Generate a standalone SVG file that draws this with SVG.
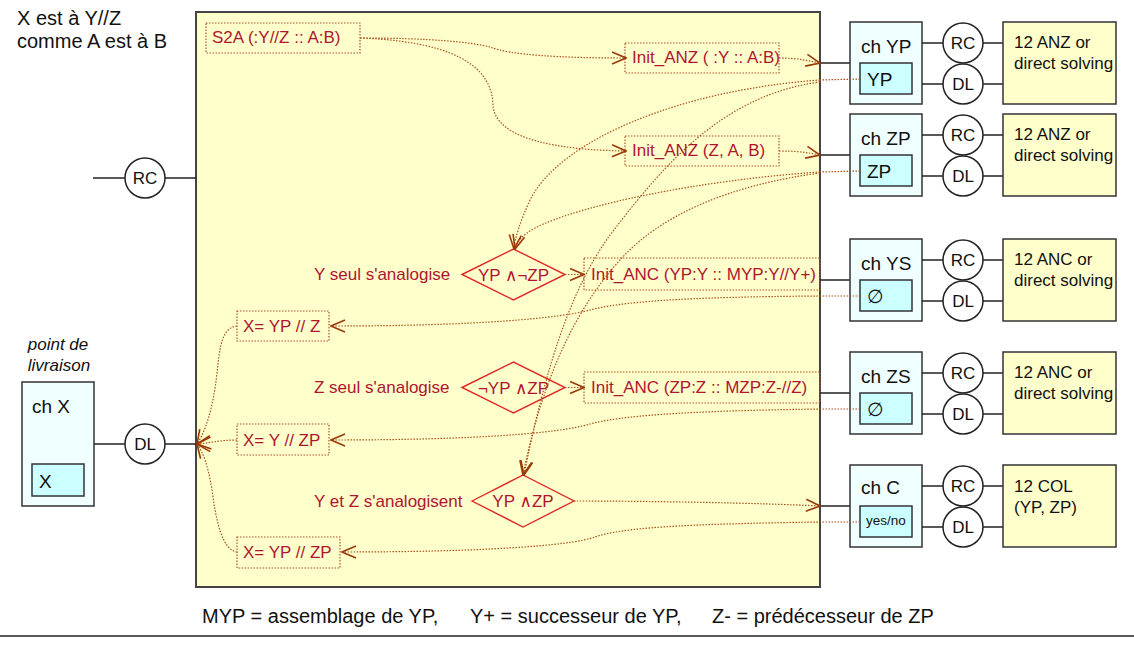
<svg xmlns="http://www.w3.org/2000/svg" width="1134" height="647" viewBox="0 0 1134 647">
<style>
.t{font-family:"Liberation Sans",Arial,sans-serif;font-size:19px;fill:#111}
.s{font-family:"Liberation Sans",Arial,sans-serif;font-size:17px;fill:#111}
.c{font-family:"Liberation Sans",Arial,sans-serif;font-size:17px;fill:#111;text-anchor:middle}
.r{font-family:"Liberation Sans","DejaVu Sans",Arial,sans-serif;font-size:17px;fill:#b01530}
.rm{font-family:"Liberation Sans","DejaVu Sans",Arial,sans-serif;font-size:17px;fill:#b01530;text-anchor:middle}
.dbox{fill:none;stroke:#b0502a;stroke-width:1.2;stroke-dasharray:1.5 1.5}
.conn{fill:none;stroke:#a8501e;stroke-width:1.2;stroke-dasharray:1.5 1.5}
.arr{marker-end:url(#ah)}
.ln{stroke:#222;stroke-width:1.5;fill:none}
.circ{fill:#fff;stroke:#222;stroke-width:1.5}
.ch{fill:#f0ffff;stroke:#333;stroke-width:1.5}
.in{fill:#ccffff;stroke:#333;stroke-width:1.5}
.yb{fill:#ffffcc;stroke:#333;stroke-width:1.5}
.dia{fill:none;stroke:#e02828;stroke-width:1.4}
</style>
<defs>
<marker id="ah" viewBox="0 0 16 14" refX="15" refY="7" markerWidth="16" markerHeight="14" markerUnits="userSpaceOnUse" orient="auto">
<path d="M1,1 L15,7 L1,13" fill="none" stroke="#9a3a0a" stroke-width="1.6"/>
</marker>
</defs>
<rect width="1134" height="647" fill="#fff"/>

<g id="title">
<text class="t" x="17" y="25" style="font-size:20px">X est à Y//Z</text>
<text class="t" x="17" y="48" style="font-size:20px">comme A est à B</text>
</g>

<g id="main">
<rect x="196" y="12" width="624" height="575" fill="#ffffcc" stroke="#444" stroke-width="2"/>
</g>

<g id="rc-left">
<line class="ln" x1="93" y1="178" x2="125" y2="178"/>
<line class="ln" x1="165" y1="178" x2="196" y2="178"/>
<circle class="circ" cx="145" cy="178" r="20"/>
<text class="c" x="145" y="184">RC</text>
</g>

<g id="chX">
<text class="s" x="58" y="350" style="font-style:italic;text-anchor:middle">point de</text>
<text class="s" x="59" y="371" style="font-style:italic;text-anchor:middle">livraison</text>
<rect class="ch" x="22" y="382" width="72" height="124"/>
<text class="t" x="32" y="413">ch X</text>
<rect class="in" x="32" y="464" width="52" height="32"/>
<text class="t" x="39" y="488">X</text>
<line class="ln" x1="94" y1="444" x2="125" y2="444"/>
<line class="ln" x1="165" y1="444" x2="196" y2="444"/>
<circle class="circ" cx="145" cy="444" r="20"/>
<text class="c" x="145" y="450">DL</text>
</g>

<g id="s2a">
<rect class="dbox" x="206" y="23" width="154" height="30"/>
<text class="r" x="212" y="43">S2A (:Y//Z :: A:B)</text>
</g>
<g id="initANZ1">
<rect class="dbox" x="625" y="43" width="154" height="30"/>
<text class="r" x="632" y="63">Init_ANZ ( :Y :: A:B)</text>
</g>
<g id="initANZ2">
<rect class="dbox" x="625" y="136" width="154" height="30"/>
<text class="r" x="632" y="156">Init_ANZ (Z, A, B)</text>
</g>
<g id="initANC1">
<rect class="dbox" x="584" y="258" width="236" height="32"/>
<text class="r" x="591" y="280">Init_ANC (YP:Y :: MYP:Y//Y+)</text>
</g>
<g id="initANC2">
<rect class="dbox" x="584" y="372" width="236" height="31"/>
<text class="r" x="591" y="393">Init_ANC (ZP:Z :: MZP:Z-//Z)</text>
</g>

<g id="d1">
<text class="r" x="314" y="280">Y seul s'analogise</text>
<polygon class="dia" points="462,274.5 513.5,249 565,274.5 513.5,300"/>
<text class="rm" x="513.5" y="281">YP ∧¬ZP</text>
</g>
<g id="d2">
<text class="r" x="314" y="393">Z seul s'analogise</text>
<polygon class="dia" points="462,387.5 513.5,362 565,387.5 513.5,413"/>
<text class="rm" x="513.5" y="394">¬YP ∧ZP</text>
</g>
<g id="d3">
<text class="r" x="314" y="507">Y et Z s'analogisent</text>
<polygon class="dia" points="472,501 523,475 574,501 523,527"/>
<text class="rm" x="523" y="507">YP ∧ZP</text>
</g>

<g id="x1">
<rect class="dbox" x="237" y="311" width="92" height="30"/>
<text class="r" x="243" y="332">X= YP // Z</text>
</g>
<g id="x2">
<rect class="dbox" x="237" y="424" width="92" height="31"/>
<text class="r" x="243" y="446">X= Y // ZP</text>
</g>
<g id="x3">
<rect class="dbox" x="237" y="537" width="103" height="31"/>
<text class="r" x="243" y="558">X= YP // ZP</text>
</g>

<g id="rowYP">
<line class="ln" x1="820" y1="63" x2="850" y2="63"/>
<rect class="ch" x="850" y="22" width="72" height="82"/>
<text class="t" x="861" y="53">ch YP</text>
<rect class="in" x="860" y="63" width="52" height="31"/>
<text class="t" x="867" y="86">YP</text>
<line class="ln" x1="922" y1="43" x2="1003" y2="43"/>
<line class="ln" x1="922" y1="84" x2="1003" y2="84"/>
<circle class="circ" cx="963" cy="43" r="20"/>
<text class="c" x="963" y="49">RC</text>
<circle class="circ" cx="963" cy="84" r="20"/>
<text class="c" x="963" y="90">DL</text>
<rect class="yb" x="1003" y="22" width="113" height="82"/>
<text class="s" x="1014" y="48">12 ANZ or</text>
<text class="s" x="1014" y="69">direct solving</text>
</g>
<g id="rowZP">
<line class="ln" x1="820" y1="155" x2="850" y2="155"/>
<rect class="ch" x="850" y="114" width="72" height="82"/>
<text class="t" x="861" y="145">ch ZP</text>
<rect class="in" x="860" y="155" width="52" height="31"/>
<text class="t" x="867" y="178">ZP</text>
<line class="ln" x1="922" y1="135" x2="1003" y2="135"/>
<line class="ln" x1="922" y1="176" x2="1003" y2="176"/>
<circle class="circ" cx="963" cy="135" r="20"/>
<text class="c" x="963" y="141">RC</text>
<circle class="circ" cx="963" cy="176" r="20"/>
<text class="c" x="963" y="182">DL</text>
<rect class="yb" x="1003" y="114" width="113" height="82"/>
<text class="s" x="1014" y="140">12 ANZ or</text>
<text class="s" x="1014" y="161">direct solving</text>
</g>
<g id="rowYS">
<line class="ln" x1="820" y1="280" x2="850" y2="280"/>
<rect class="ch" x="850" y="239" width="72" height="82"/>
<text class="t" x="861" y="270">ch YS</text>
<rect class="in" x="860" y="280" width="52" height="31"/>
<text class="t" x="867" y="303">∅</text>
<line class="ln" x1="922" y1="260" x2="1003" y2="260"/>
<line class="ln" x1="922" y1="301" x2="1003" y2="301"/>
<circle class="circ" cx="963" cy="260" r="20"/>
<text class="c" x="963" y="266">RC</text>
<circle class="circ" cx="963" cy="301" r="20"/>
<text class="c" x="963" y="307">DL</text>
<rect class="yb" x="1003" y="239" width="113" height="82"/>
<text class="s" x="1014" y="265">12 ANC or</text>
<text class="s" x="1014" y="286">direct solving</text>
</g>
<g id="rowZS">
<line class="ln" x1="820" y1="393" x2="850" y2="393"/>
<rect class="ch" x="850" y="352" width="72" height="82"/>
<text class="t" x="861" y="383">ch ZS</text>
<rect class="in" x="860" y="393" width="52" height="31"/>
<text class="t" x="867" y="416">∅</text>
<line class="ln" x1="922" y1="373" x2="1003" y2="373"/>
<line class="ln" x1="922" y1="414" x2="1003" y2="414"/>
<circle class="circ" cx="963" cy="373" r="20"/>
<text class="c" x="963" y="379">RC</text>
<circle class="circ" cx="963" cy="414" r="20"/>
<text class="c" x="963" y="420">DL</text>
<rect class="yb" x="1003" y="352" width="113" height="82"/>
<text class="s" x="1014" y="378">12 ANC or</text>
<text class="s" x="1014" y="399">direct solving</text>
</g>
<g id="rowC">
<line class="ln" x1="820" y1="506" x2="850" y2="506"/>
<rect class="ch" x="850" y="465" width="72" height="82"/>
<text class="t" x="861" y="494">ch C</text>
<rect class="in" x="860" y="506" width="52" height="31"/>
<text class="s" x="866" y="525" style="font-size:13.5px">yes/no</text>
<line class="ln" x1="922" y1="486" x2="1003" y2="486"/>
<line class="ln" x1="922" y1="527" x2="1003" y2="527"/>
<circle class="circ" cx="963" cy="486" r="20"/>
<text class="c" x="963" y="492">RC</text>
<circle class="circ" cx="963" cy="527" r="20"/>
<text class="c" x="963" y="533">DL</text>
<rect class="yb" x="1003" y="465" width="113" height="82"/>
<text class="s" x="1014" y="492">12 COL</text>
<text class="s" x="1014" y="513">(YP, ZP)</text>
</g>

<g id="connectors">
<path class="conn arr" d="M360,38 C430,38 470,42 490,47 C510,55 560,58 626,58"/>
<path class="conn arr" d="M360,38 C470,42 492,75 493,105 C495,140 560,150 626,151"/>
<path class="conn arr" d="M779,58 C795,58 805,60 820,63"/>
<path class="conn arr" d="M779,151 C795,151 805,152 820,155"/>
<path class="conn" d="M860,79 L820,80"/>
<path class="conn arr" d="M820,80 C680,90 560,140 530,200 C520,222 515,238 514,249"/>
<path class="conn arr" d="M820,82 C720,95 660,170 610,235 C570,290 545,370 524,475"/>
<path class="conn" d="M860,171 L820,172"/>
<path class="conn arr" d="M820,172 C700,180 580,205 535,228 C522,235 517,242 515,249"/>
<path class="conn arr" d="M820,173 C730,185 660,215 620,260 C570,315 540,390 523,475"/>
<path class="conn arr" d="M860,296 L820,296 C680,297 620,302 590,310 C560,318 480,326 331,326"/>
<path class="conn arr" d="M860,409 L820,409 C680,411 620,416 590,424 C560,433 480,440 331,440"/>
<path class="conn arr" d="M860,522 L820,522 C680,524 620,528 595,537 C570,546 480,552 342,552"/>
<path class="conn arr" d="M565,274.5 L584,274.5"/>
<path class="conn arr" d="M565,387.5 L584,387.5"/>
<path class="conn arr" d="M574,501 C650,501 760,503 820,506"/>
<path class="conn arr" d="M237,326 C222,328 220,345 217,373 C213,410 205,432 197,444"/>
<path class="conn arr" d="M237,440 C220,440 210,443 197,444"/>
<path class="conn arr" d="M237,552 C222,550 216,520 212,490 C208,465 203,452 197,444"/>
</g>

<g id="legend">
<text class="t" x="202" y="623" style="font-size:20px">MYP = assemblage de YP,</text>
<text class="t" x="470" y="623" style="font-size:20px">Y+ = successeur de YP,</text>
<text class="t" x="712" y="623" style="font-size:20px">Z- = prédécesseur de ZP</text>
<line x1="0" y1="636" x2="1134" y2="636" stroke="#222" stroke-width="1.5"/>
</g>
</svg>
